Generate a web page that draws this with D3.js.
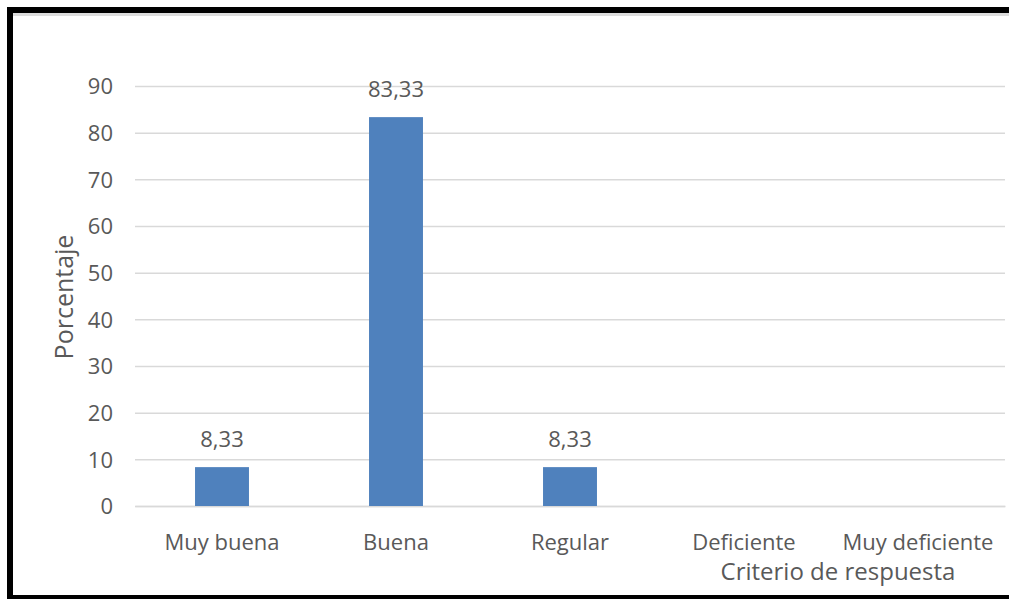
<!DOCTYPE html>
<html>
<head>
<meta charset="utf-8">
<script src="https://cdn.jsdelivr.net/npm/d3@7/dist/d3.min.js"></script>
<style>
  html, body { margin: 0; padding: 0; background: #fff; }
  svg { display: block; }
  text { font-family: "Open Sans", "Noto Sans", sans-serif; fill: #595959; }
</style>
</head>
<body>
<svg id="chart" width="1009" height="599"></svg>
<script>
// Response criteria and their percentages
const categories = ["Muy buena", "Buena", "Regular", "Deficiente", "Muy deficiente"];
const values = [8.33, 83.33, 8.33, null, null];
const yTicks = [0, 10, 20, 30, 40, 50, 60, 70, 80, 90];

const svg = d3.select("#chart");
const W = 1009, H = 599;
const plot = { left: 135, right: 1005, top: 86, bottom: 506 };

// Frame: thick black border on left, top and bottom, with a soft shadow line
svg.append("rect").attr("x", 0).attr("y", 0).attr("width", W).attr("height", H).attr("fill", "#fff");
svg.append("rect").attr("x", 13).attr("y", 13).attr("width", W).attr("height", 3).attr("fill", "#dcdcdc");
svg.append("rect").attr("x", 7).attr("y", 7).attr("width", W).attr("height", 6).attr("fill", "#000");
svg.append("rect").attr("x", 7).attr("y", 7).attr("width", 6).attr("height", H).attr("fill", "#000");
svg.append("rect").attr("x", 7).attr("y", 595).attr("width", W).attr("height", 4).attr("fill", "#000");

const x = d3.scaleBand().domain(categories).range([plot.left, plot.right]).padding(0);
const y = d3.scaleLinear().domain([0, 90]).range([plot.bottom, plot.top]);
const barW = x.bandwidth() * 0.31;

// Gridlines
svg.append("g").selectAll("line").data(yTicks).join("line")
  .attr("x1", plot.left).attr("x2", plot.right)
  .attr("y1", d => y(d) + 0.5).attr("y2", d => y(d) + 0.5)
  .attr("stroke", "#d9d9d9").attr("stroke-width", 1.5);

// Y axis tick labels
const yAxis = d3.axisLeft(y).tickValues(yTicks).tickSize(0).tickPadding(0);
const gy = svg.append("g").attr("transform", `translate(${113},0)`).call(yAxis);
gy.select(".domain").remove();
gy.selectAll("text").attr("font-size", 22).attr("font-family", null).attr("fill", "#595959").attr("dy", "0.35em");

// X axis category labels
const xAxis = d3.axisBottom(x).tickSize(0).tickPadding(0);
const gx = svg.append("g").attr("transform", `translate(0,${plot.bottom})`).call(xAxis);
gx.select(".domain").attr("stroke", "#d9d9d9").attr("stroke-width", 1.5);
gx.selectAll("text").attr("font-size", 22).attr("font-family", null).attr("fill", "#595959").attr("y", 44).attr("dy", 0);

// Bars
const data = categories.map((c, i) => ({ c, v: values[i] })).filter(d => d.v != null);
svg.append("g").selectAll("rect").data(data).join("rect")
  .attr("x", d => x(d.c) + x.bandwidth() / 2 - barW / 2)
  .attr("y", d => y(d.v))
  .attr("width", barW)
  .attr("height", d => y(0) - y(d.v))
  .attr("fill", "#4f81bd");

// Value labels
svg.append("g").selectAll("text").data(data).join("text")
  .attr("x", d => x(d.c) + x.bandwidth() / 2)
  .attr("y", d => y(d.v) - 20)
  .attr("text-anchor", "middle")
  .attr("font-size", 22)
  .text(d => d3.format(".2f")(d.v).replace(".", ","));

// Axis titles
svg.append("text")
  .attr("transform", `translate(73,297) rotate(-90)`)
  .attr("text-anchor", "middle")
  .attr("font-size", 25)
  .text("Porcentaje");
svg.append("text")
  .attr("x", 838).attr("y", 580)
  .attr("text-anchor", "middle")
  .attr("font-size", 24)
  .text("Criterio de respuesta");
</script>
</body>
</html>
